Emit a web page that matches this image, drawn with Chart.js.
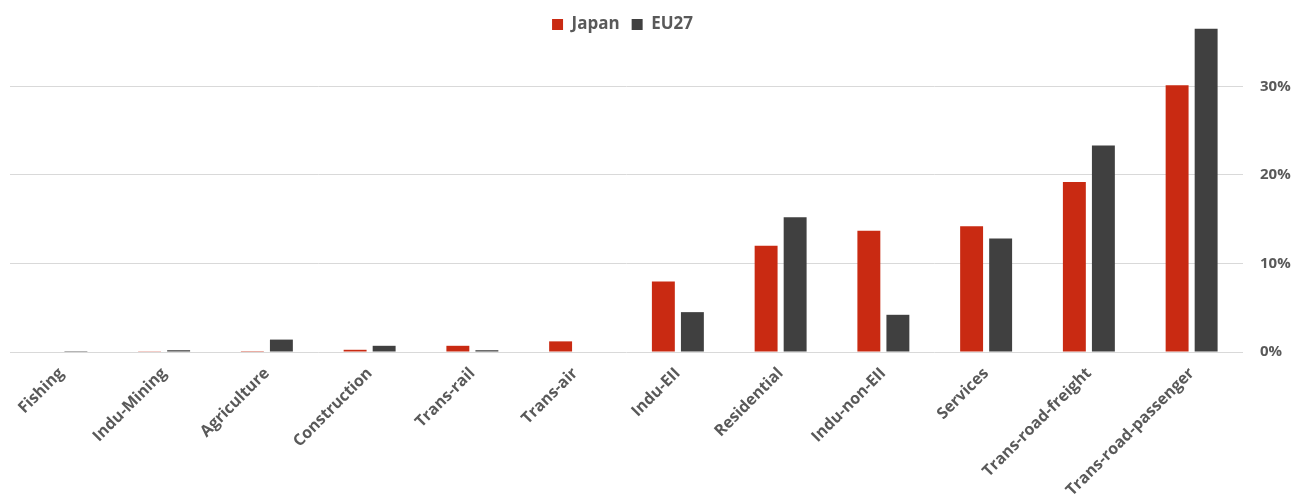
<!DOCTYPE html>
<html>
<head>
<meta charset="utf-8">
<script src="https://cdn.jsdelivr.net/npm/chart.js@4"></script>
<style>
  html, body { margin: 0; padding: 0; background: #fff; }
  #wrap { width: 1295px; height: 499px; }
</style>
</head>
<body>
<div id="wrap"><canvas id="sectors"></canvas></div>
<script>
// share of final energy demand by sector (fraction of total)
var sectors = ['Fishing', 'Indu-Mining', 'Agriculture', 'Construction', 'Trans-rail', 'Trans-air',
               'Indu-EII', 'Residential', 'Indu-non-EII', 'Services', 'Trans-road-freight', 'Trans-road-passenger'];
var japan = [0, 0.0003, 0.001, 0.0025, 0.007, 0.012, 0.0795, 0.12, 0.137, 0.142, 0.192, 0.301];
var eu27  = [0.001, 0.002, 0.014, 0.007, 0.002, 0, 0.045, 0.152, 0.042, 0.128, 0.233, 0.365];
var yTicks = [0, 0.1, 0.2, 0.3];

var grey = '#595959';

// keep the legend band short so the tallest bar can rise beside it,
// then give the box its full height back (centred over the plot) so the labels aren't clipped
var shortLegend = {
  id: 'shortLegend',
  beforeUpdate: function(chart) {
    var lg = chart.legend;
    if (lg && !lg._short) {
      var fit = lg.fit;
      lg.fit = function() { fit.call(this); this.height = 22; };
      lg._short = true;
    }
  },
  afterLayout: function(chart) {
    var lg = chart.legend;
    if (lg) {
      lg.height = 40;
      lg.bottom = lg.top + 40;
      lg.left = chart.chartArea.left - 4;
      lg.right = chart.chartArea.right - 4;
      lg.width = lg.right - lg.left;
    }
  }
};

new Chart(document.getElementById('sectors'), {
  type: 'bar',
  data: {
    labels: sectors,
    datasets: [
      { label: 'Japan', data: japan, backgroundColor: '#C92A12', borderWidth: 0 },
      { label: 'EU27',  data: eu27,  backgroundColor: '#404040', borderWidth: 0 }
    ]
  },
  options: {
    responsive: true,
    maintainAspectRatio: false,
    animation: false,
    categoryPercentage: 0.565,
    barPercentage: 0.79,
    layout: { padding: { left: 10, right: 0, top: 0, bottom: 0 } },
    plugins: {
      legend: {
        position: 'top',
        labels: {
          color: grey,
          boxWidth: 11,
          boxHeight: 11,
          padding: 12,
          font: { family: 'Open Sans', size: 17, weight: 'bold' }
        }
      },
      tooltip: { enabled: false }
    },
    scales: {
      x: {
        grid: { display: false },
        border: { display: false },
        ticks: {
          color: grey,
          minRotation: 45,
          maxRotation: 45,
          autoSkip: false,
          padding: 4,
          font: { family: 'Open Sans', size: 16, weight: 'bold' }
        },
        afterFit: function(scale) { scale.height = 147; }
      },
      y: {
        position: 'right',
        min: 0,
        max: 0.368,
        border: { display: false },
        grid: { color: '#D9D9D9', lineWidth: 1, drawTicks: false },
        afterBuildTicks: function(scale) {
          scale.ticks = yTicks.map(function(v) { return { value: v }; });
        },
        afterFit: function(scale) { scale.width = 52; },
        ticks: {
          color: grey,
          padding: 17,
          font: { family: 'Open Sans', size: 15, weight: 'bold' },
          callback: function(v) { return Math.round(v * 100) + '%'; }
        }
      }
    }
  },
  plugins: [shortLegend]
});
</script>
</body>
</html>
